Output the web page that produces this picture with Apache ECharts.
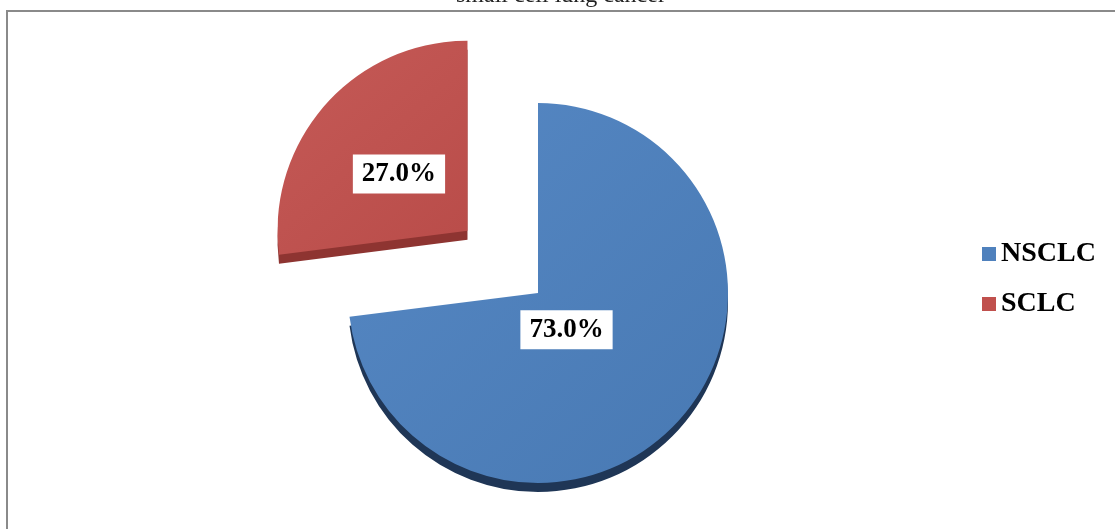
<!DOCTYPE html>
<html>
<head>
<meta charset="utf-8">
<script src="https://cdn.jsdelivr.net/npm/echarts@6/dist/echarts.min.js"></script>
<style>
html,body{margin:0;padding:0;background:#fff;}
#chart{width:1115px;height:529px;}
</style>
</head>
<body>
<div id="chart"></div>
<script>
const titleText = 'small cell lung cancer';
const categories = ['NSCLC', 'SCLC'];
const values = [73.0, 27.0];
const faceColors = ['#4f81bd', '#c0504d'];
const depthColors = ['#1f3656', '#8e3431'];

const serif = '"Liberation Serif", "DejaVu Serif", serif';
const labelShift = [[0, 0], [5, 8]];

function faceData() {
  return categories.map((name, i) => ({
    name: name,
    value: values[i],
    selected: name === 'SCLC',
    itemStyle: {
      color: {
        type: 'linear', x: 0, y: 0, x2: 1, y2: 1,
        colorStops: [
          { offset: 0, color: i === 0 ? '#5688c4' : '#c55a57' },
          { offset: 1, color: i === 0 ? '#4879b3' : '#b94c49' }
        ]
      }
    },
    label: { offset: i === 0 ? [-45, -28] : [3, 8] }
  }));
}
function depthData() {
  return categories.map((name, i) => ({
    name: name,
    value: values[i],
    selected: name === 'SCLC',
    itemStyle: { color: depthColors[i] }
  }));
}

const chart = echarts.init(document.getElementById('chart'), null, { renderer: 'canvas' });
chart.setOption({
  animation: false,
  backgroundColor: '#fff',
  title: {
    text: titleText,
    left: 456,
    top: -16,
    padding: 0,
    textStyle: { fontFamily: serif, fontSize: 24, fontWeight: 'normal', color: '#222', lineHeight: 24 }
  },
  graphic: [{
    type: 'rect',
    z: 0,
    shape: { x: 7, y: 11, width: 1200, height: 600 },
    style: { fill: 'none', stroke: '#8a8a8a', lineWidth: 2 }
  }],
  legend: {
    orient: 'vertical',
    left: 982,
    top: 240,
    padding: 0,
    itemWidth: 14,
    itemHeight: 14,
    itemGap: 22,
    icon: 'rect',
    data: categories.map((c, i) => ({ name: c, itemStyle: { color: faceColors[i] } })),
    textStyle: { fontFamily: serif, fontSize: 28, fontWeight: 'bold', color: '#000', lineHeight: 24, padding: [2, 0, 0, 0] }
  },
  series: [
    {
      type: 'pie',
      z: 3,
      center: [538, 293],
      radius: [0, 190],
      startAngle: 90,
      clockwise: true,
      selectedMode: 'single',
      selectedOffset: 94,
      avoidLabelOverlap: false,
      data: faceData(),
      label: {
        show: true,
        position: 'inside',
        formatter: p => p.value.toFixed(1) + '%',
        fontFamily: serif,
        fontSize: 27,
        fontWeight: 'bold',
        color: '#000',
        backgroundColor: '#fff',
        padding: [6, 9, 5, 9],
        lineHeight: 28
      },
      labelLayout: p => ({ dx: labelShift[p.dataIndex][0], dy: labelShift[p.dataIndex][1] }),
      labelLine: { show: false },
      emphasis: { disabled: true }
    },
    {
      type: 'pie',
      z: 2,
      silent: true,
      center: [538, 302],
      radius: [0, 190],
      startAngle: 90,
      clockwise: true,
      selectedMode: 'single',
      selectedOffset: 94,
      data: depthData(),
      label: { show: false },
      labelLine: { show: false },
      emphasis: { disabled: true }
    }
  ]
});
</script>
</body>
</html>
